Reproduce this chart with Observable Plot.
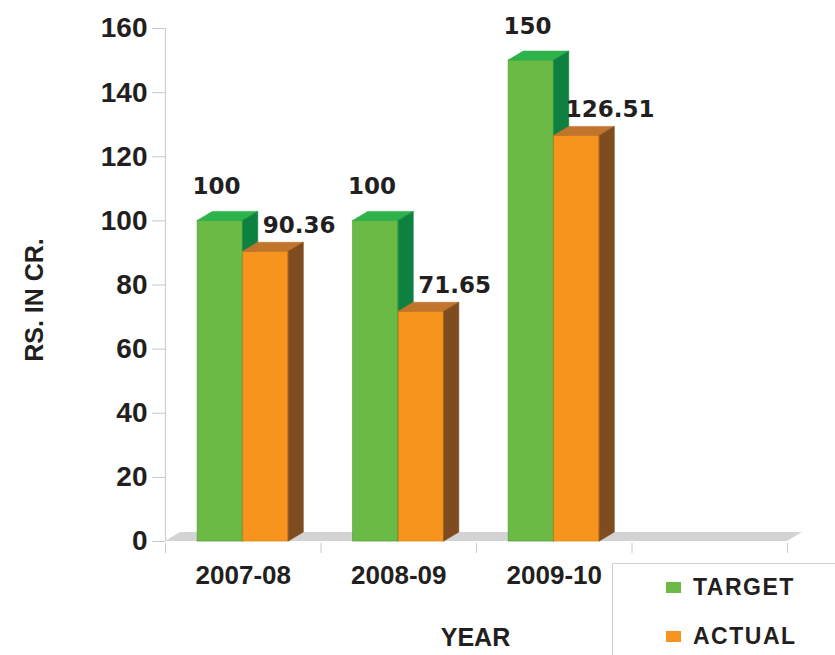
<!DOCTYPE html>
<html>
<head>
<meta charset="utf-8">
<script src="https://cdn.jsdelivr.net/npm/d3@7"></script>
<script src="https://cdn.jsdelivr.net/npm/@observablehq/plot@0.6"></script>
<style>
  html, body { margin: 0; padding: 0; background: #fff; overflow: hidden; }
  #wrap { position: relative; width: 835px; height: 655px; font-family: "Liberation Sans", Arial, sans-serif; font-weight: bold; color: #231f20; }
  #legend { position: absolute; left: 612px; top: 563px; width: 260px; height: 120px; border-left: 1px solid #cfcfcf; border-top: 1px solid #cfcfcf; }
  .item { position: absolute; left: 53px; display: flex; align-items: center; font-size: 23px; letter-spacing: 1.5px; }
  .sw { width: 15px; height: 11px; margin-right: 12px; }
</style>
</head>
<body>
<div id="wrap">
  <div id="chart"></div>
  <div id="legend">
    <div class="item" style="top:10px"><span class="sw" style="background:#6aba45"></span>TARGET</div>
    <div class="item" style="top:59px"><span class="sw" style="background:#f7941d"></span>ACTUAL</div>
  </div>
</div>
<script>
// ---- data ----
const years = ["2007-08", "2008-09", "2009-10"];
const target = [100, 100, 150];
const actual = [90.36, 71.65, 126.51];
const yTicks = [0, 20, 40, 60, 80, 100, 120, 140, 160];
const slots = 4; // three years plus one empty slot on the x axis

// ---- style constants ----
const BW = 0.293;   // bar width in x units
const DX = 0.0965;  // 3D depth offset (x units)
const DY = 2.8;     // 3D depth offset (y units)

const colors = {
  target: {front: "#6aba45", edge: "#55a23a", top: "#2eb24b", side: "#0e8140"},
  actual: {front: "#f7941d", edge: "#df8218", top: "#c0742c", side: "#7f4c1f"}
};

function faces(values, series) {
  const front = [], top = [], side = [];
  values.forEach((v, i) => {
    const x1 = series === "target" ? i + 0.5 - BW : i + 0.5;
    const x2 = x1 + BW;
    const key = series + i;
    front.push({x1, x2, y1: 0, y2: v});
    top.push({key, y: v, x1, x2}, {key, y: v + DY, x1: x1 + DX, x2: x2 + DX});
    side.push({key, x: x2, y1: 0, y2: v}, {key, x: x2 + DX, y1: DY, y2: v + DY});
  });
  return {front, top, side};
}
function barMarks(values, series) {
  const f = faces(values, series), c = colors[series];
  return [
    Plot.rect(f.front, {x1: "x1", x2: "x2", y1: "y1", y2: "y2", fill: c.front, stroke: c.edge, strokeWidth: 0.8}),
    Plot.areaX(f.top, {y: "y", x1: "x1", x2: "x2", z: "key", fill: c.top, stroke: c.top, strokeWidth: 0.6, curve: "linear"}),
    Plot.areaY(f.side, {x: "x", y1: "y1", y2: "y2", z: "key", fill: c.side, stroke: c.side, strokeWidth: 0.6, curve: "linear"})
  ];
}

const floor = [
  {y: 0, x1: 0, x2: slots},
  {y: DY, x1: DX, x2: slots + DX}
];

const labelData = (values) => values.map((v, i) => ({i, v}));
const valueFont = "'DejaVu Sans', Verdana, sans-serif";

const plot = Plot.plot({
  width: 835,
  height: 655,
  marginTop: 28,
  marginBottom: 114,
  marginLeft: 165,
  marginRight: 48,
  style: {fontFamily: "'Liberation Sans', Arial, sans-serif", fontWeight: "bold", color: "#231f20", background: "transparent"},
  x: {domain: [0, slots]},
  y: {domain: [0, 160]},
  marks: [
    Plot.areaX(floor, {y: "y", x1: "x1", x2: "x2", fill: "#d3d3d5", curve: "linear"}),
    Plot.ruleX([0], {stroke: "#cfcfcf", strokeWidth: 1.2}),
    Plot.axisY({ticks: yTicks, tickSize: 13, tickPadding: 5, fontSize: 28, fontWeight: "bold", stroke: "#c8c8c8", fill: "#231f20", label: null}),
    Plot.axisX({ticks: d3.range(slots + 1), tickSize: 10, tickFormat: () => "", stroke: "#c8c8c8", label: null, dy: 2}),
    Plot.axisX({ticks: years.map((_, i) => i + 0.5), tickSize: 0, tickPadding: 24, tickFormat: (t) => years[Math.floor(t)], fontSize: 26, fontWeight: "bold", fill: "#231f20", label: null}),
    ...barMarks(target, "target"),
    ...barMarks(actual, "actual"),
    Plot.text(["RS. IN CR."], {frameAnchor: "left", textAnchor: "middle", lineAnchor: "middle", rotate: -90, dx: -131, dy: 15, fontSize: 25, fontWeight: "bold", fill: "#231f20"}),
    Plot.text(["YEAR"], {frameAnchor: "bottom", lineAnchor: "middle", dy: 96, dx: -1, fontSize: 25, fontWeight: "bold", fill: "#231f20"}),
    Plot.text(labelData(target), {x: (d) => d.i + 0.5 - BW / 2, y: "v", text: (d) => String(d.v), dx: -4, dy: -34, fontSize: 23, fontWeight: "bold", fontFamily: valueFont, fill: "#231f20"}),
    Plot.text(labelData(actual), {x: (d) => d.i + 0.5 + BW / 2, y: "v", text: (d) => d.v.toFixed(2), dx: 33, dy: -26, fontSize: 23, fontWeight: "bold", fontFamily: valueFont, fill: "#231f20"})
  ]
});
document.getElementById("chart").appendChild(plot);
</script>
</body>
</html>
